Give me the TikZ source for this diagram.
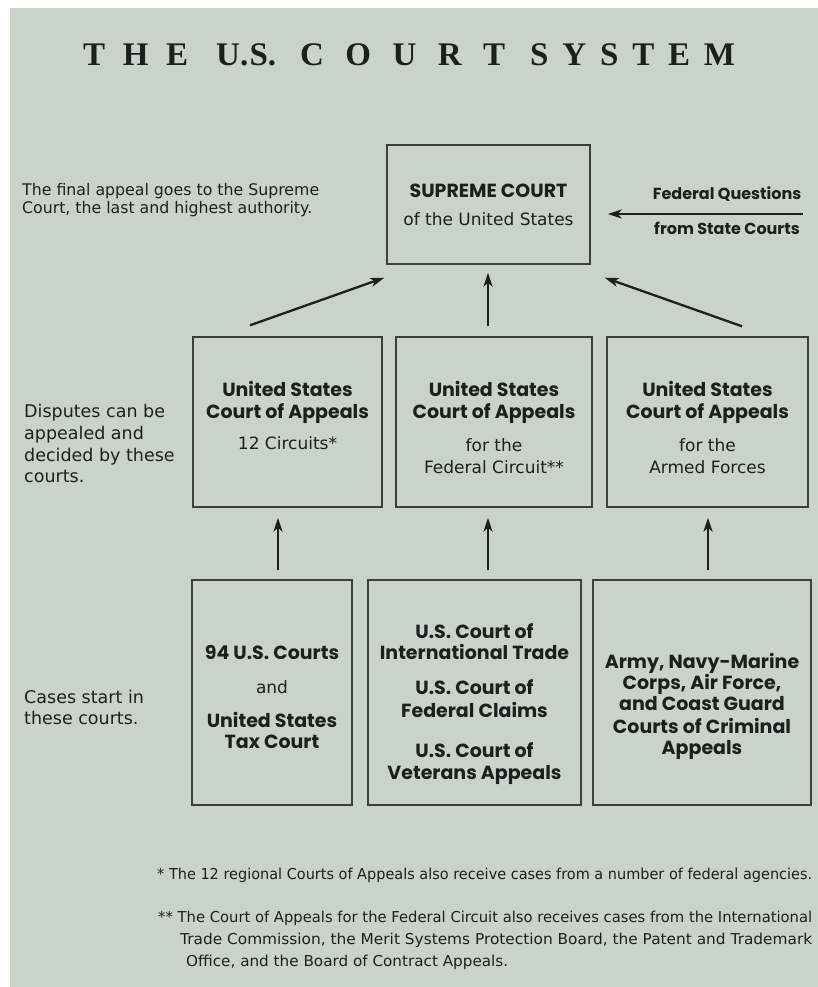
\documentclass[tikz,border=0pt]{standalone}
\usepackage{fontspec}
\usepackage{graphicx}
\usetikzlibrary{arrows.meta}
\setmainfont{DejaVu Sans}
\newfontfamily\titlefont{Liberation Serif}
\newfontfamily\geo{Poppins}
\newfontfamily\hum{DejaVu Sans}
\definecolor{panel}{RGB}{201,211,202}
\definecolor{ink}{RGB}{28,32,29}
\definecolor{edge}{RGB}{60,64,61}
\newcommand{\fitw}[2]{\resizebox{#1}{\height}{#2}}
\begin{document}
\begin{tikzpicture}[x=1pt,y=-1pt,
  court/.style={draw=edge, line width=1.4pt, fill=panel, inner sep=0pt},
  bt/.style={text=ink, inner sep=0pt, anchor=base, font=\geo\bfseries\fontsize{19}{22}\selectfont},
  rt/.style={text=ink, inner sep=0pt, anchor=base, font=\hum\fontsize{17}{22}\selectfont},
  side/.style={text=ink, inner sep=0pt, anchor=base west, font=\hum\fontsize{17.5}{22}\selectfont},
  note/.style={text=ink, inner sep=0pt, anchor=base west, font=\hum\fontsize{15}{18}\selectfont},
  fq/.style={text=ink, inner sep=0pt, anchor=base, font=\geo\bfseries\fontsize{16}{18}\selectfont},
  arr/.style={draw=ink, line width=2.3pt, -{Stealth[length=14pt,width=9pt,inset=4pt]}}
]
\useasboundingbox (0,0) rectangle (818,987);
\fill[white] (0,0) rectangle (818,987);
\fill[panel] (10,8) rectangle (818,987);

% title
\node[inner sep=0pt, anchor=base west, text=ink,
  font=\titlefont\bfseries\fontsize{33}{33}\selectfont] (title) at (83,66)
  {\makebox[105pt][s]{T\hfill H\hfill E}\hspace{28pt}%
   \makebox[60pt][s]{U.\hfill S.}\hspace{24pt}%
   \makebox[205pt][s]{C\hfill O\hfill U\hfill R\hfill T}\hspace{25pt}%
   \makebox[205pt][s]{S\hfill Y\hfill S\hfill T\hfill E\hfill M}};

% boxes
\node[court, minimum width=203pt, minimum height=119pt] (sup) at (488.5,204.5) {};
\node[court, minimum width=189pt, minimum height=170pt] (b1) at (287.5,422) {};
\node[court, minimum width=196pt, minimum height=170pt] (b2) at (494,422) {};
\node[court, minimum width=201pt, minimum height=170pt] (b3) at (707.5,422) {};
\node[court, minimum width=160pt, minimum height=225pt] (c1) at (272,692.5) {};
\node[court, minimum width=213pt, minimum height=225pt] (c2) at (474.5,692.5) {};
\node[court, minimum width=218pt, minimum height=225pt] (c3) at (702,692.5) {};

% supreme text
\node[bt] (s1) at (488.5,197) {SUPREME COURT};
\node[rt] (s2) at (488.5,225) {of the United States};

% federal questions
\node[fq] (f1) at (727,200) {Federal Questions};
\node[fq] (f2) at (727,234) {from State Courts};
\coordinate (ftail) at (803,214);

% left text top
\node[note] (l1) at (22,195) {\fitw{297pt}{\fontsize{16}{18}\selectfont The final appeal goes to the Supreme}};
\node[note] (l2) at (22,213) {\fitw{290pt}{\fontsize{16}{18}\selectfont Court, the last and highest authority.}};

% middle row text
\node[bt] (m11) at (287.5,396) {United States};
\node[bt] (m12) at (287.5,418) {Court of Appeals};
\node[rt] (m13) at (287.5,449) {12 Circuits*};
\node[bt] (m21) at (494,396) {United States};
\node[bt] (m22) at (494,418) {Court of Appeals};
\node[rt] (m23) at (494,451) {for the};
\node[rt] (m24) at (494,473) {Federal Circuit**};
\node[bt] (m31) at (707.5,396) {United States};
\node[bt] (m32) at (707.5,418) {Court of Appeals};
\node[rt] (m33) at (707.5,451) {for the};
\node[rt] (m34) at (707.5,473) {Armed Forces};

\node[side] (d1) at (24,417) {Disputes can be};
\node[side] (d2) at (24,439) {appealed and};
\node[side] (d3) at (24,461) {decided by these};
\node[side] (d4) at (24,482) {courts.};

% bottom row text
\node[bt] (n11) at (272,659) {94 U.S. Courts};
\node[rt] (n12) at (272,693) {and};
\node[bt] (n13) at (272,727) {United States};
\node[bt] (n14) at (272,748) {Tax Court};
\node[bt] (n21) at (474.5,638) {U.S. Court of};
\node[bt] (n22) at (474.5,659) {International Trade};
\node[bt] (n23) at (474.5,694) {U.S. Court of};
\node[bt] (n24) at (474.5,717) {Federal Claims};
\node[bt] (n25) at (474.5,757) {U.S. Court of};
\node[bt] (n26) at (474.5,779) {Veterans Appeals};
\node[bt] (n31) at (702,668) {Army, Navy-Marine};
\node[bt] (n32) at (702,689) {Corps, Air Force,};
\node[bt] (n33) at (702,710) {and Coast Guard};
\node[bt] (n34) at (702,733) {Courts of Criminal};
\node[bt] (n35) at (702,754) {Appeals};

\node[side] (e1) at (24,703) {Cases start in};
\node[side] (e2) at (24,724) {these courts.};

% footnotes
\node[note] (fn1) at (157,879) {\fitw{655pt}{* The 12 regional Courts of Appeals also receive cases from a number of federal agencies.}};
\node[note] (fn2) at (158,922) {\fitw{654pt}{** The Court of Appeals for the Federal Circuit also receives cases from the International}};
\node[note] (fn3) at (180,944) {\fitw{632pt}{Trade Commission, the Merit Systems Protection Board, the Patent and Trademark}};
\node[note] (fn4) at (186,966) {\fitw{322pt}{Office, and the Board of Contract Appeals.}};

% arrows
\draw[arr] ([shift={(-37.5,-11)}]b1.north) -- ([shift={(-2,13)}]sup.south west);
\draw[arr] ([shift={(-6,-10)}]b2.north) -- ([shift={(-0.5,8)}]sup.south);
\draw[arr] ([shift={(34.5,-10)}]b3.north) -- ([shift={(14,13)}]sup.south east);
\draw[arr] (ftail) -- ([shift={(17,9.5)}]sup.east);
\draw[arr] ([shift={(6,-9)}]c1.north) -- ([shift={(-9.5,10)}]b1.south);
\draw[arr] ([shift={(13.5,-9)}]c2.north) -- ([shift={(-6,10)}]b2.south);
\draw[arr] ([shift={(6,-9)}]c3.north) -- ([shift={(0.5,10)}]b3.south);
\end{tikzpicture}
\end{document}
